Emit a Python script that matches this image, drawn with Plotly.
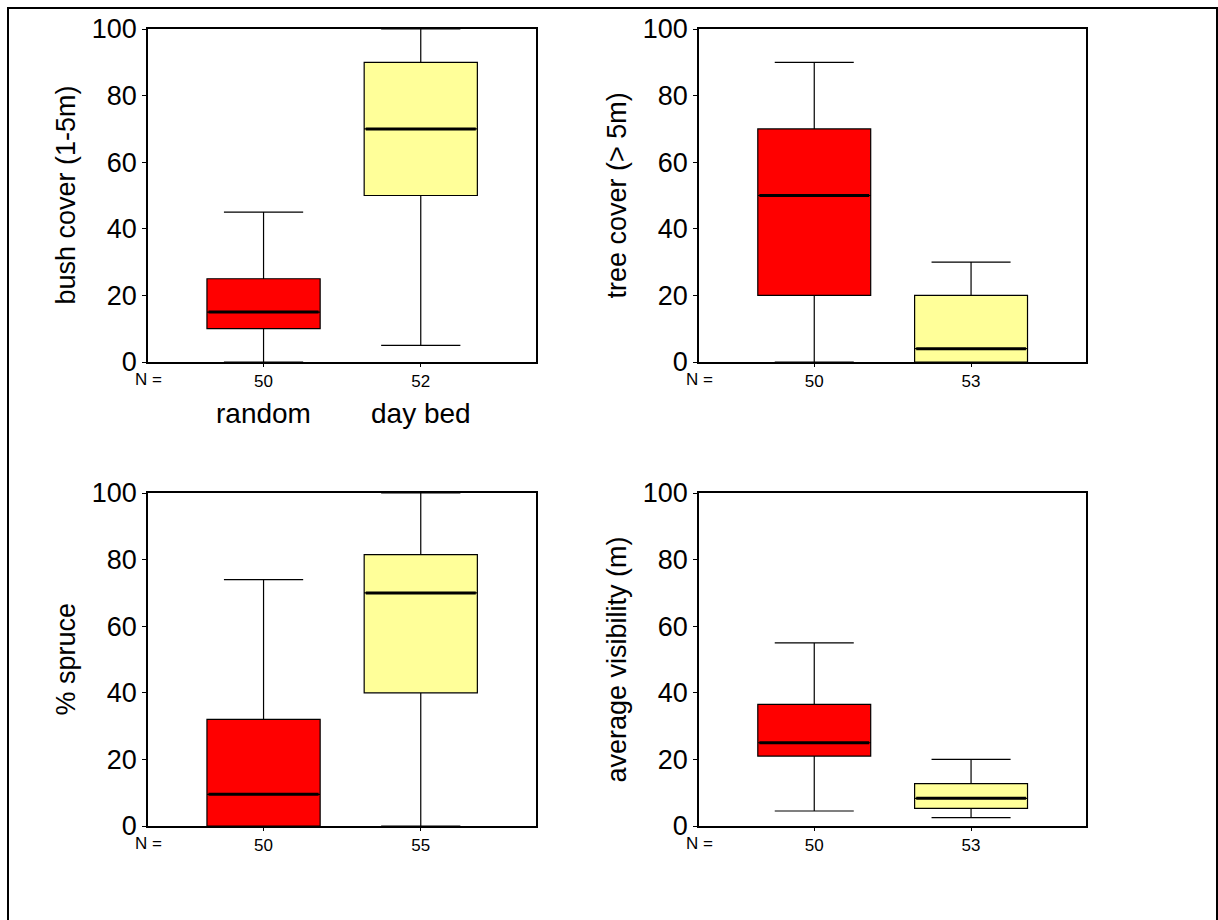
import plotly.graph_objects as go

# ---- data ----
groups = ["random", "day bed"]
positions = [0, 1]
colors = ["#FF0000", "#FFFF99"]

panel_titles = ["bush cover (1-5m)", "tree cover (> 5m)", "% spruce", "average visibility (m)"]

n_bush = [50, 52]
n_tree = [50, 53]
n_spruce = [50, 55]
n_vis = [50, 53]

bush_low = [0, 5]
bush_q1 = [10, 50]
bush_med = [15, 70]
bush_q3 = [25, 90]
bush_high = [45, 100]

tree_low = [0, 0]
tree_q1 = [20, 0]
tree_med = [50, 4]
tree_q3 = [70, 20]
tree_high = [90, 30]

spruce_low = [0, 0]
spruce_q1 = [0, 40]
spruce_med = [9.5, 70]
spruce_q3 = [32, 81.5]
spruce_high = [74, 100]

vis_low = [4.5, 2.5]
vis_q1 = [21, 5.3]
vis_med = [25, 8.3]
vis_q3 = [36.5, 12.7]
vis_high = [55, 20]

y_ticks = [0, 20, 40, 60, 80, 100]

panels = [
    (panel_titles[0], n_bush, bush_low, bush_q1, bush_med, bush_q3, bush_high),
    (panel_titles[1], n_tree, tree_low, tree_q1, tree_med, tree_q3, tree_high),
    (panel_titles[2], n_spruce, spruce_low, spruce_q1, spruce_med, spruce_q3, spruce_high),
    (panel_titles[3], n_vis, vis_low, vis_q1, vis_med, vis_q3, vis_high),
]

# ---- layout geometry (pixels) ----
W, H = 1218, 920
BOX_W = 0.72
FONT = "Arial, Liberation Sans, sans-serif"
x_dom_px = [(148, 536), (699, 1086)]
y_dom_px = [(29, 362), (493, 826)]

fig = go.Figure()
layout_axes = {}
annotations = []

for i, (title, ns, lo, q1, med, q3, hi) in enumerate(panels):
    r, c = divmod(i, 2)
    ax = "" if i == 0 else str(i + 1)
    xref, yref = "x" + ax, "y" + ax
    for j in range(2):
        fig.add_trace(go.Box(
            x=[positions[j]], q1=[q1[j]], median=[med[j]], q3=[q3[j]],
            lowerfence=[lo[j]], upperfence=[hi[j]],
            width=BOX_W, whiskerwidth=0.7,
            fillcolor=colors[j], line=dict(color="black", width=1.2),
            boxpoints=False, showlegend=False, hoverinfo="skip",
            xaxis=xref, yaxis=yref,
        ))
        fig.add_trace(go.Scatter(
            x=[positions[j] - BOX_W / 2 + 0.01, positions[j] + BOX_W / 2 - 0.01],
            y=[med[j], med[j]], mode="lines",
            line=dict(color="black", width=3), showlegend=False, hoverinfo="skip",
            xaxis=xref, yaxis=yref,
        ))
    x0p, x1p = x_dom_px[c]
    y0p, y1p = y_dom_px[r]
    layout_axes["xaxis" + ax] = dict(
        domain=[x0p / W, x1p / W], anchor=yref, range=[-0.735, 1.733],
        showline=True, mirror=True, linecolor="black", linewidth=1.5,
        showgrid=False, zeroline=False, ticks="outside", ticklen=3, tickcolor="black",
        tickvals=positions, ticktext=[str(n) for n in ns], automargin=False,
        tickfont=dict(family=FONT, size=17, color="black"),
    )
    layout_axes["yaxis" + ax] = dict(
        domain=[1 - y1p / H, 1 - y0p / H], anchor=xref, range=[0, 100],
        showline=True, mirror=True, linecolor="black", linewidth=1.5,
        showgrid=False, zeroline=False, ticks="outside", ticklen=4, tickcolor="black",
        tickvals=y_ticks, ticktext=[str(t) for t in y_ticks], automargin=False,
        tickfont=dict(family=FONT, size=27, color="black"),
    )
    # y title
    annotations.append(dict(
        text=title, textangle=-90, xref="paper", yref="paper",
        x=(x0p - 83) / W, y=1 - (y0p + y1p) / 2 / H,
        showarrow=False, font=dict(family=FONT, size=27, color="black"),
        xanchor="center", yanchor="middle",
    ))
    # N =
    annotations.append(dict(
        text="N =", xref="paper", yref="paper",
        x=x0p / W, y=1 - (y1p + 17) / H,
        showarrow=False, font=dict(family=FONT, size=17, color="black"),
        xanchor="center", yanchor="middle",
    ))
    if i == 0:
        for j in range(2):
            annotations.append(dict(
                text=groups[j], xref=xref, yref="paper",
                x=positions[j], y=1 - (y1p + 51) / H,
                showarrow=False, font=dict(family=FONT, size=28, color="black"),
                xanchor="center", yanchor="middle",
            ))

fig.update_layout(
    width=W, height=H, margin=dict(l=0, r=0, t=0, b=0, autoexpand=False),
    paper_bgcolor="white", plot_bgcolor="white",
    annotations=annotations,
    shapes=[dict(type="rect", xref="paper", yref="paper",
                 x0=8 / W, x1=1217 / W, y0=-0.01, y1=1 - 8 / H,
                 line=dict(color="black", width=2))],
    **layout_axes,
)

fig.write_html("out.html")
